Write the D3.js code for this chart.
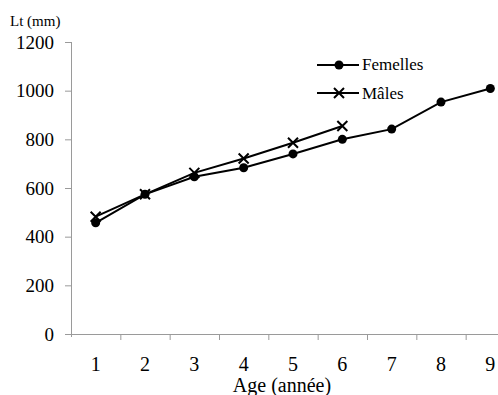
<!DOCTYPE html>
<html>
<head>
<meta charset="utf-8">
<script src="https://cdn.jsdelivr.net/npm/d3@7"></script>
<style>
  body { margin: 0; background: #fff; }
  .axis path, .axis line { stroke: #9a9a9a; }
  .line { fill: none; stroke: #000; stroke-width: 2; }
</style>
</head>
<body>
<div id="chart"></div>
<script>
// données
const ages = [1, 2, 3, 4, 5, 6, 7, 8, 9];
const femelles = [457, 574, 646, 683, 740, 800, 842, 953, 1009];
const males = [482, 574, 662, 721, 786, 855];
const yTicks = [0, 200, 400, 600, 800, 1000, 1200];

const width = 498, height = 395;
const serif = "'Liberation Serif', 'Times New Roman', serif";

const svg = d3.select("#chart")
  .append("svg")
  .attr("width", width)
  .attr("height", height)
  .attr("font-family", serif);

// axe X en catégories (style Excel : graduations entre les catégories)
const x = d3.scaleBand()
  .domain(ages)
  .range([71, 515]);

const y = d3.scaleLinear()
  .domain([0, 1200])
  .range([334, 42]);

// axe Y
const yAxis = svg.append("g")
  .attr("class", "axis")
  .attr("transform", "translate(71,0)")
  .call(d3.axisLeft(y).tickValues(yTicks).tickFormat(d3.format("d"))
    .tickSize(6).tickPadding(11).tickSizeOuter(0));
yAxis.attr("font-family", serif);
yAxis.select(".domain").attr("d", "M0.5," + y(1200) + "V" + (y(0) + 3));
yAxis.selectAll("text").style("font-size", "19px").attr("fill", "#000");

// axe X
const xAxis = svg.append("g")
  .attr("class", "axis")
  .attr("transform", "translate(0," + y(0) + ")")
  .call(d3.axisBottom(x).tickSize(0).tickPadding(23));
xAxis.attr("font-family", serif);
xAxis.selectAll("text").style("font-size", "20px").attr("fill", "#000");
xAxis.selectAll(".bound")
  .data(ages.slice(1))
  .enter()
  .append("line")
  .attr("class", "bound")
  .attr("x1", d => x(d) + 0.5)
  .attr("x2", d => x(d) + 0.5)
  .attr("y1", 0)
  .attr("y2", 6);

const cx = d => x(d) + x.bandwidth() / 2;

const line = d3.line()
  .x((d, i) => cx(ages[i]))
  .y(d => y(d));

// Mâles
svg.append("path").datum(males).attr("class", "line").attr("d", line);
const cross = 5;
svg.selectAll(".male")
  .data(males)
  .enter()
  .append("path")
  .attr("class", "male")
  .attr("d", (d, i) => {
    const px = cx(ages[i]), py = y(d);
    return "M" + (px - cross) + "," + (py - cross) + "L" + (px + cross) + "," + (py + cross) +
      "M" + (px - cross) + "," + (py + cross) + "L" + (px + cross) + "," + (py - cross);
  })
  .attr("stroke", "#000")
  .attr("stroke-width", 2);

// Femelles
svg.append("path").datum(femelles).attr("class", "line").attr("d", line);
svg.selectAll(".dot")
  .data(femelles)
  .enter()
  .append("circle")
  .attr("class", "dot")
  .attr("cx", (d, i) => cx(ages[i]))
  .attr("cy", d => y(d))
  .attr("r", 4.5)
  .attr("fill", "#000");

// légende
const legend = svg.append("g");
legend.append("line").attr("x1", 317).attr("x2", 359).attr("y1", 65).attr("y2", 65)
  .attr("stroke", "#000").attr("stroke-width", 2);
legend.append("circle").attr("cx", 339).attr("cy", 65).attr("r", 4.5).attr("fill", "#000");
legend.append("text").attr("x", 362).attr("y", 70)
  .style("font-family", serif).style("font-size", "17px").text("Femelles");

legend.append("line").attr("x1", 317).attr("x2", 359).attr("y1", 93).attr("y2", 93)
  .attr("stroke", "#000").attr("stroke-width", 2);
legend.append("path")
  .attr("d", "M334,88L344,98M334,98L344,88")
  .attr("stroke", "#000").attr("stroke-width", 2);
legend.append("text").attr("x", 362).attr("y", 99)
  .style("font-family", serif).style("font-size", "17px").text("Mâles");

// titres des axes
svg.append("text").attr("x", 10).attr("y", 26)
  .style("font-family", serif).style("font-size", "15px").text("Lt (mm)");
svg.append("text").attr("x", 282).attr("y", 392).attr("text-anchor", "middle")
  .style("font-family", serif).style("font-size", "20px").text("Age (année)");
</script>
</body>
</html>
